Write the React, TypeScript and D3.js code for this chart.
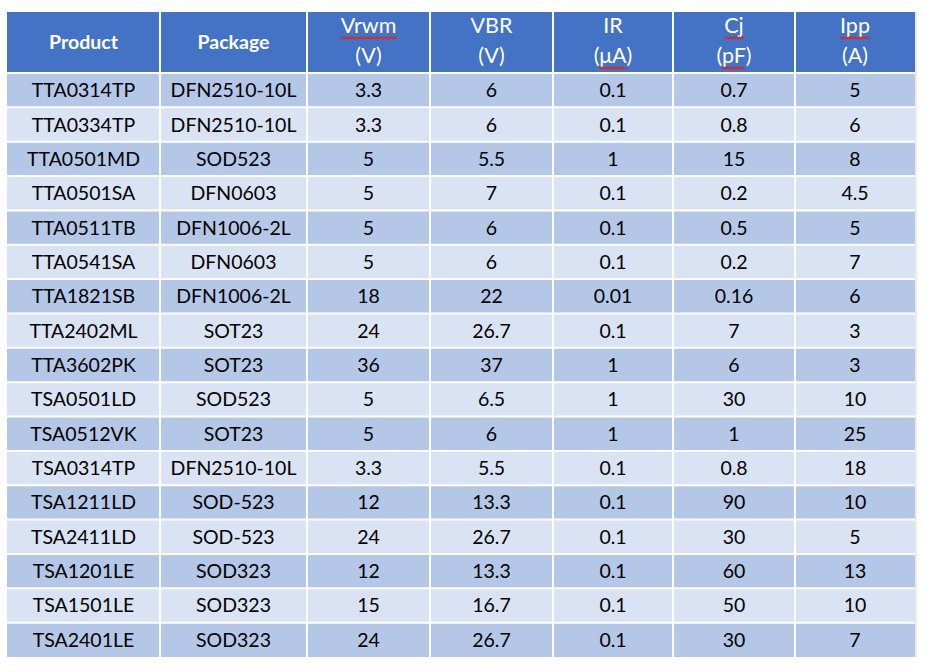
import React, { useEffect, useRef } from "react";
import * as d3 from "d3";

const products = ["TTA0314TP","TTA0334TP","TTA0501MD","TTA0501SA","TTA0511TB","TTA0541SA","TTA1821SB","TTA2402ML","TTA3602PK","TSA0501LD","TSA0512VK","TSA0314TP","TSA1211LD","TSA2411LD","TSA1201LE","TSA1501LE","TSA2401LE"];
const packages = ["DFN2510-10L","DFN2510-10L","SOD523","DFN0603","DFN1006-2L","DFN0603","DFN1006-2L","SOT23","SOT23","SOD523","SOT23","DFN2510-10L","SOD-523","SOD-523","SOD323","SOD323","SOD323"];
const vrwm = ["3.3","3.3","5","5","5","5","18","24","36","5","5","3.3","12","24","12","15","24"];
const vbr = ["6","6","5.5","7","6","6","22","26.7","37","6.5","6","5.5","13.3","26.7","13.3","16.7","26.7"];
const ir = ["0.1","0.1","1","0.1","0.1","0.1","0.01","0.1","1","1","1","0.1","0.1","0.1","0.1","0.1","0.1"];
const cj = ["0.7","0.8","15","0.2","0.5","0.2","0.16","7","6","30","1","0.8","90","30","60","50","30"];
const ipp = ["5","6","8","4.5","5","7","6","3","3","10","25","18","10","5","13","10","7"];

const headerLine1 = ["Product","Package","Vrwm","VBR","IR","Cj","Ipp"];
const headerLine2 = ["","","(V)","(V)","(μA)","(pF)","(A)"];
const spellMarked1 = [false,false,true,false,false,true,true];
const spellMarked2 = [false,false,false,false,true,true,false];

const colEdges = [7, 160, 307, 430, 553, 673, 795, 915];
const W = 925, H = 672;
const headerTop = 12, headerBottom = 73, tableBottom = 657;

export default function App() {
  const ref = useRef<SVGSVGElement>(null);
  useEffect(() => {
    const svg = d3.select(ref.current);
    svg.selectAll("*").remove();
    const columns = [products, packages, vrwm, vbr, ir, cj, ipp];
    const y = d3.scaleBand<number>().domain(d3.range(products.length)).range([headerBottom, tableBottom]);
    const font = "Lato, 'Open Sans', sans-serif";

    svg.append("rect").attr("x", colEdges[0]).attr("y", headerTop)
      .attr("width", colEdges[7] - colEdges[0]).attr("height", headerBottom - headerTop).attr("fill", "#4472C4");
    svg.selectAll("rect.row").data(products).enter().append("rect").attr("class", "row")
      .attr("x", colEdges[0]).attr("y", (_, i) => y(i)!)
      .attr("width", colEdges[7] - colEdges[0]).attr("height", y.bandwidth())
      .attr("fill", (_, i) => (i % 2 === 0 ? "#B4C7E7" : "#DAE3F3"));

    const g = svg.append("g").attr("stroke", "#ffffff").attr("stroke-width", 2);
    colEdges.slice(1, 7).forEach((x) => {
      g.append("line").attr("x1", x).attr("x2", x).attr("y1", headerTop).attr("y2", tableBottom);
    });
    d3.range(products.length).forEach((i) => {
      g.append("line").attr("x1", colEdges[0]).attr("x2", colEdges[7]).attr("y1", y(i)!).attr("y2", y(i)!);
    });
    svg.append("line").attr("x1", colEdges[7] + 1).attr("x2", colEdges[7] + 1).attr("y1", headerTop).attr("y2", tableBottom)
      .attr("stroke", "#D9D9D9").attr("stroke-width", 1);

    const marks: { node: SVGTextElement; base: number; paren: boolean }[] = [];
    headerLine1.forEach((h, c) => {
      const cx = (colEdges[c] + colEdges[c + 1]) / 2;
      if (headerLine2[c] === "") {
        svg.append("text").attr("x", cx).attr("y", 49).attr("text-anchor", "middle")
          .attr("font-family", font).attr("font-weight", "bold").attr("font-size", 19.5).attr("fill", "#fff").text(h);
      } else {
        const t1 = svg.append("text").attr("x", cx).attr("y", 33).attr("text-anchor", "middle")
          .attr("font-family", font).attr("font-size", 21.5).attr("fill", "#fff").text(h);
        const t2 = svg.append("text").attr("x", cx).attr("y", 63).attr("text-anchor", "middle")
          .attr("font-family", font).attr("font-size", 21.5).attr("fill", "#fff").text(headerLine2[c]);
        if (spellMarked1[c]) marks.push({ node: t1.node()!, base: 33, paren: false });
        if (spellMarked2[c]) marks.push({ node: t2.node()!, base: 63, paren: true });
      }
    });
    marks.forEach(({ node, base, paren }) => {
      const n = node.getNumberOfChars();
      const x0 = node.getStartPositionOfChar(paren ? 1 : 0).x;
      const x1 = node.getEndPositionOfChar(paren ? n - 2 : n - 1).x;
      const yy = base + 4;
      const pts: [number, number][] = [];
      for (let x = x0, k = 0; x <= x1; x += 1.5, k++) pts.push([x, yy + (k % 2 === 0 ? 0 : 1.8)]);
      svg.append("path").attr("d", d3.line()(pts)!).attr("fill", "none").attr("stroke", "#E3241B").attr("stroke-width", 1.2);
    });

    columns.forEach((col, c) => {
      const cx = (colEdges[c] + colEdges[c + 1]) / 2;
      svg.selectAll(null).data(col).enter().append("text")
        .attr("x", cx).attr("y", (_, i) => y(i)! + y.bandwidth() / 2 + 7)
        .attr("text-anchor", "middle").attr("font-family", font).attr("font-size", 19.5)
        .attr("fill", "#000").text((d) => d);
    });
  }, []);
  return <svg ref={ref} width={W} height={H} style={{ position: "absolute", left: 0, top: 0, background: "#fff" }} />;
}
